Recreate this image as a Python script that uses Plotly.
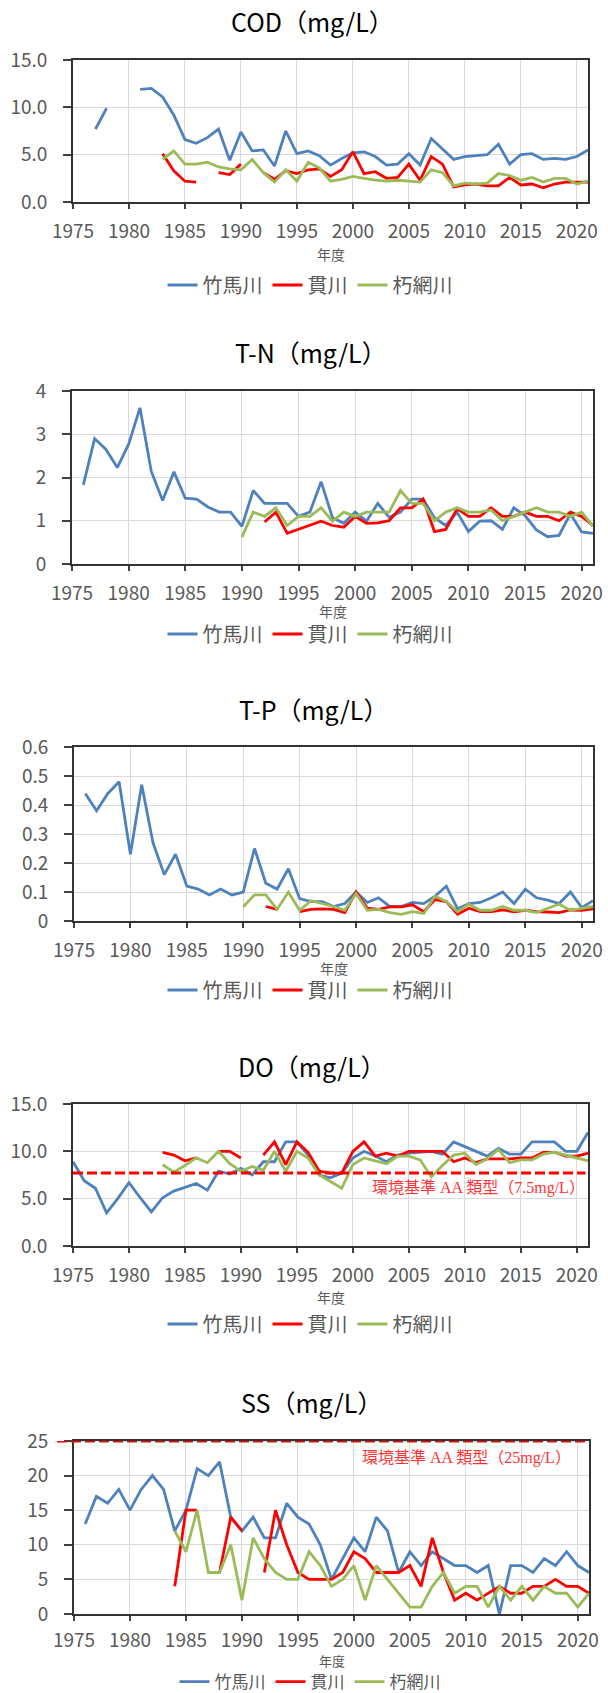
import plotly.graph_objects as go

# ---------------- data ----------------
years = list(range(1975, 2022))
series_names = ["竹馬川", "貫川", "朽網川"]
series_colors = ["#4F81BD", "#FF0000", "#9BBB59"]
x_ticks = [1975, 1980, 1985, 1990, 1995, 2000, 2005, 2010, 2015, 2020]

panel_titles = ["COD（mg/L）", "T-N（mg/L）", "T-P（mg/L）", "DO（mg/L）", "SS（mg/L）"]

# COD
cod_takema = [None, None, 7.7, 9.9, None, None, 11.9, 12.0, 11.1, 9.2, 6.6, 6.2, 6.8, 7.7, 4.4, 7.4,
              5.4, 5.5, 3.8, 7.5, 5.1, 5.4, 4.9, 3.9, 4.6, 5.2, 5.3, 4.8, 3.9, 4.0, 5.1, 3.9, 6.7,
              5.6, 4.5, 4.8, 4.9, 5.0, 6.1, 4.0, 5.0, 5.1, 4.5, 4.6, 4.5, 4.8, 5.5]
cod_nuki = [None] * 8 + [5.1, 3.3, 2.2, 2.1, None, 3.1, 2.9, 4.0, None, 3.1, 2.4, 3.3, 3.0, 3.4,
                         3.5, 2.7, 3.4, 5.3, 3.0, 3.2, 2.5, 2.6, 4.0, 2.3, 4.8, 4.0, 1.6, 1.8, 1.9,
                         1.7, 1.7, 2.6, 1.8, 1.9, 1.5, 1.9, 2.1, 2.1, 2.1]
cod_kusami = [None] * 8 + [4.5, 5.4, 4.0, 4.0, 4.2, 3.7, 3.5, 3.4, 4.5, 3.1, 2.1, 3.4, 2.2, 4.2,
                           3.6, 2.2, 2.4, 2.7, 2.5, 2.3, 2.2, 2.3, 2.2, 2.1, 3.4, 3.1, 1.7, 2.0, 1.9,
                           2.0, 3.0, 2.8, 2.3, 2.6, 2.1, 2.5, 2.5, 1.9, 2.2]

# T-N
tn_takema = [None, 1.83, 2.9, 2.65, 2.23, 2.77, 3.61, 2.14, 1.47, 2.13, 1.52, 1.5, 1.32, 1.2, 1.2,
             0.87, 1.7, 1.4, 1.4, 1.4, 1.1, 1.2, 1.9, 1.07, 0.94, 1.2, 0.99, 1.4, 1.08, 1.2, 1.5,
             1.5, 1.07, 0.89, 1.2, 0.75, 0.99, 1.0, 0.8, 1.3, 1.12, 0.79, 0.63, 0.66, 1.16, 0.74, 0.71]
tn_nuki = [None] * 17 + [0.97, 1.2, 0.71, 0.8, 0.9, 0.99, 0.89, 0.85, 1.1, 0.94, 0.95, 1.0, 1.3,
                         1.3, 1.5, 0.75, 0.8, 1.28, 1.1, 1.1, 1.3, 1.1, 1.1, 1.2, 1.1, 1.1, 1.0,
                         1.2, 1.1, 0.89]
tn_kusami = [None] * 15 + [0.62, 1.2, 1.1, 1.3, 0.89, 1.1, 1.1, 1.3, 0.99, 1.2, 1.1, 1.2, 1.2, 1.2,
                           1.7, 1.4, 1.4, 1.0, 1.2, 1.3, 1.2, 1.2, 1.25, 1.0, 1.1, 1.2, 1.3, 1.2,
                           1.2, 1.1, 1.2, 0.87]

# T-P
tp_takema = [None, 0.44, 0.38, 0.44, 0.48, 0.23, 0.47, 0.27, 0.16, 0.23, 0.12, 0.11, 0.09, 0.11,
             0.09, 0.10, 0.25, 0.13, 0.11, 0.18, 0.077, 0.067, 0.067, 0.05, 0.06, 0.10, 0.064,
             0.08, 0.05, 0.05, 0.064, 0.06, 0.086, 0.12, 0.042, 0.06, 0.064, 0.08, 0.10, 0.06,
             0.11, 0.08, 0.072, 0.06, 0.10, 0.046, 0.07]
tp_nuki = [None] * 17 + [0.05, 0.04, None, 0.032, 0.04, 0.042, 0.04, 0.029, 0.10, 0.044, 0.04,
                         0.049, 0.049, 0.056, 0.032, 0.074, 0.067, 0.023, 0.044, 0.032, 0.032,
                         0.038, 0.032, 0.037, 0.032, 0.031, 0.029, 0.038, 0.037, 0.042]
tp_kusami = [None] * 15 + [0.049, 0.09, 0.09, 0.04, 0.10, 0.037, 0.07, 0.06, 0.05, 0.037, 0.095,
                           0.037, 0.04, 0.029, 0.023, 0.032, 0.026, 0.086, 0.067, 0.032, 0.058,
                           0.037, 0.037, 0.05, 0.037, 0.037, 0.029, 0.044, 0.058, 0.037, 0.044, 0.05]

# DO
do_takema = [8.9, 6.9, 6.1, 3.5, 5.0, 6.7, 5.1, 3.6, 5.1, 5.8, 6.2, 6.6, 5.9, 7.9, 7.6, 8.2, 7.5,
             8.9, 8.9, 11.0, 11.0, 9.6, 7.5, 7.2, 7.7, 9.3, 10.0, 9.5, 8.9, 9.6, 9.8, 9.9, 10.0,
             9.7, 11.0, 10.5, 10.0, 9.5, 10.3, 9.7, 9.7, 11.0, 11.0, 11.0, 10.0, 10.0, 12.0]
do_nuki = [None] * 8 + [9.9, 9.6, 9.0, 9.3, None, 10.0, 10.0, 9.3, None, 9.6, 11.0, 8.6, 11.0,
                        9.9, 7.9, 7.7, 7.7, 10.0, 11.0, 9.5, 9.8, 9.5, 10.0, 10.0, 10.0, 10.0,
                        8.9, 9.3, 8.8, 9.2, 9.2, 9.2, 9.3, 9.3, 9.9, 9.9, 9.5, 9.5, 9.8]
do_kusami = [None] * 8 + [8.6, 7.8, 8.5, 9.3, 8.8, 10.0, 8.7, 7.9, 8.4, 8.0, 10.0, 7.9, 10.0,
                          9.3, 7.5, 6.8, 6.1, 8.6, 9.3, 9.0, 8.7, 9.5, 9.5, 9.1, 7.3, 8.5, 9.6,
                          9.8, 8.6, 9.2, 10.2, 8.8, 9.1, 9.1, 9.7, 9.9, 9.6, 9.3, 9.0]

# SS
ss_takema = [None, 13, 17, 16, 18, 15, 18, 20, 18, 12, 15, 21, 20, 22, 14, 12, 14, 11, 11, 16, 14,
             13, 10, 5, 8, 11, 9, 14, 12, 6, 9, 7, 9, 8, 7, 7, 6, 7, 0, 7, 7, 6, 8, 7, 9, 7, 6]
ss_nuki = [None] * 9 + [4, 15, 15, None, 6, 14, 12, None, 6, 15, 10, 6, 5, 5, 5, 6, 9, 8, 6, 6, 6,
                        7, 4, 11, 6, 2, 3, 2, 3, 4, 3, 3, 4, 4, 5, 4, 4, 3]
ss_kusami = [None] * 9 + [12, 9, 15, 6, 6, 10, 2, 11, 8, 6, 5, 5, 9, 7, 4, 5, 7, 2, 7, 5, 3, 1, 1,
                          4, 6, 3, 4, 4, 1, 4, 2, 4, 2, 4, 3, 3, 1, 3]

panel_series = [
    [cod_takema, cod_nuki, cod_kusami],
    [tn_takema, tn_nuki, tn_kusami],
    [tp_takema, tp_nuki, tp_kusami],
    [do_takema, do_nuki, do_kusami],
    [ss_takema, ss_nuki, ss_kusami],
]
y_ranges = [[0, 15], [0, 4], [0, 0.6], [0, 15], [0, 25]]
y_dticks = [5, 1, 0.1, 5, 5]
y_formats = [".1f", "", "", ".1f", ""]

do_standard = 7.7   # dashed line as drawn in the picture
do_standard_label = "環境基準 AA 類型（7.5mg/L）"
ss_standard = 25
ss_standard_label = "環境基準 AA 類型（25mg/L）"

# ---------------- layout (pixels) ----------------
W, H = 608, 1693
# plot boxes: x0, x1, ytop, ybottom
boxes = [
    (73, 588, 60, 202),
    (72, 593, 391, 564),
    (74, 593, 747, 921),
    (73, 588, 1104, 1246),
    (74, 589, 1441, 1614),
]
title_pos = [(312, 21), (311, 352), (313, 709), (312, 1066), (311, 1402)]
xtitle_y = [254, 611, 968, 1297, 1660]
xtitle_size = [14, 14, 14, 14, 13]
x_label_standoff = [6, 6, 6, 6, 3]
legend_pos = [(310, 285), (310, 634), (310, 990), (310, 1324), (310, 1682)]
legend_size = [20, 20, 20, 20, 17]

def px(x):
    return x / W

def py(y):
    return 1 - y / H

TICK_FONT = dict(family="Noto Sans CJK JP", size=19, color="#595959")
fig = go.Figure()

for i in range(5):
    xa = "x" if i == 0 else f"x{i+1}"
    ya = "y" if i == 0 else f"y{i+1}"
    lg = "legend" if i == 0 else f"legend{i+1}"
    for name, color, vals in zip(series_names, series_colors, panel_series[i]):
        assert len(vals) == len(years)
        fig.add_trace(go.Scatter(
            x=years, y=vals, mode="lines", name=name,
            line=dict(color=color, width=2.8),
            connectgaps=False, xaxis=xa, yaxis=ya, legend=lg,
        ))
    x0, x1, yt, yb = boxes[i]
    xkey = "xaxis" if i == 0 else f"xaxis{i+1}"
    ykey = "yaxis" if i == 0 else f"yaxis{i+1}"
    fig.update_layout(**{
        xkey: dict(
            domain=[px(x0), px(x1)], anchor=ya, range=[1975, 2021],
            tickmode="array", tickvals=x_ticks, ticktext=[str(t) for t in x_ticks],
            showgrid=True, gridcolor="#d9d9d9", gridwidth=1,
            ticks="outside", ticklen=5, tickwidth=1.5, tickcolor="#404040",
            showline=True, linecolor="#333333", linewidth=1.6, mirror=True,
            tickfont=TICK_FONT, ticklabelstandoff=x_label_standoff[i],
            zeroline=False, automargin=False,
        ),
        ykey: dict(
            domain=[py(yb), py(yt)], anchor=xa, range=y_ranges[i],
            tick0=0, dtick=y_dticks[i], tickformat=y_formats[i],
            showgrid=True, gridcolor="#d9d9d9", gridwidth=1,
            ticks="outside", ticklen=8, tickwidth=1.5, tickcolor="#404040",
            showline=True, linecolor="#333333", linewidth=1.6, mirror=True,
            tickfont=TICK_FONT, ticklabelstandoff=12, zeroline=False, automargin=False,
        ),
        lg: dict(
            orientation="h", x=px(legend_pos[i][0]), y=py(legend_pos[i][1]),
            xanchor="center", yanchor="middle",
            font=dict(family="Noto Sans CJK JP", size=legend_size[i], color="#595959"),
            bgcolor="rgba(0,0,0,0)", itemwidth=30,
        ),
    })
    # panel title
    fig.add_annotation(
        x=px(title_pos[i][0]), y=py(title_pos[i][1]), xref="paper", yref="paper",
        text=panel_titles[i], showarrow=False, xanchor="center", yanchor="middle",
        font=dict(family="Noto Sans CJK JP", size=25, color="#000000"),
    )
    # x-axis title
    fig.add_annotation(
        x=px((x0 + x1) / 2), y=py(xtitle_y[i]), xref="paper", yref="paper",
        text="年度", showarrow=False, xanchor="center", yanchor="middle",
        font=dict(family="Noto Sans CJK JP", size=xtitle_size[i], color="#595959"),
    )

# environmental standard lines
fig.add_shape(type="line", xref="x4 domain", yref="y4", x0=0, x1=0.995,
              y0=do_standard, y1=do_standard,
              line=dict(color="#FF0000", width=3, dash="10px,4px"))
fig.add_annotation(x=px(370), y=py(1188), xref="paper", yref="paper",
                   text=do_standard_label, showarrow=False, xanchor="left", yanchor="middle",
                   font=dict(family="Liberation Serif, Noto Sans CJK JP", size=16, color="#FF3333"))
fig.add_shape(type="line", xref="paper", yref="y5", x0=px(57), x1=px(589),
              y0=ss_standard, y1=ss_standard,
              line=dict(color="#FF0000", width=3, dash="10px,4px"))
fig.add_annotation(x=px(360), y=py(1458), xref="paper", yref="paper",
                   text=ss_standard_label, showarrow=False, xanchor="left", yanchor="middle",
                   font=dict(family="Liberation Serif, Noto Sans CJK JP", size=16, color="#FF3333"))

fig.update_layout(
    width=W, height=H, margin=dict(l=0, r=0, t=0, b=0, autoexpand=False),
    paper_bgcolor="white", plot_bgcolor="white",
    font=dict(family="Noto Sans CJK JP"),
)

fig.write_html(
    "out.html",
    config={"displayModeBar": False},
    post_script="document.body.style.margin='0';document.body.style.overflow='hidden';",
)
